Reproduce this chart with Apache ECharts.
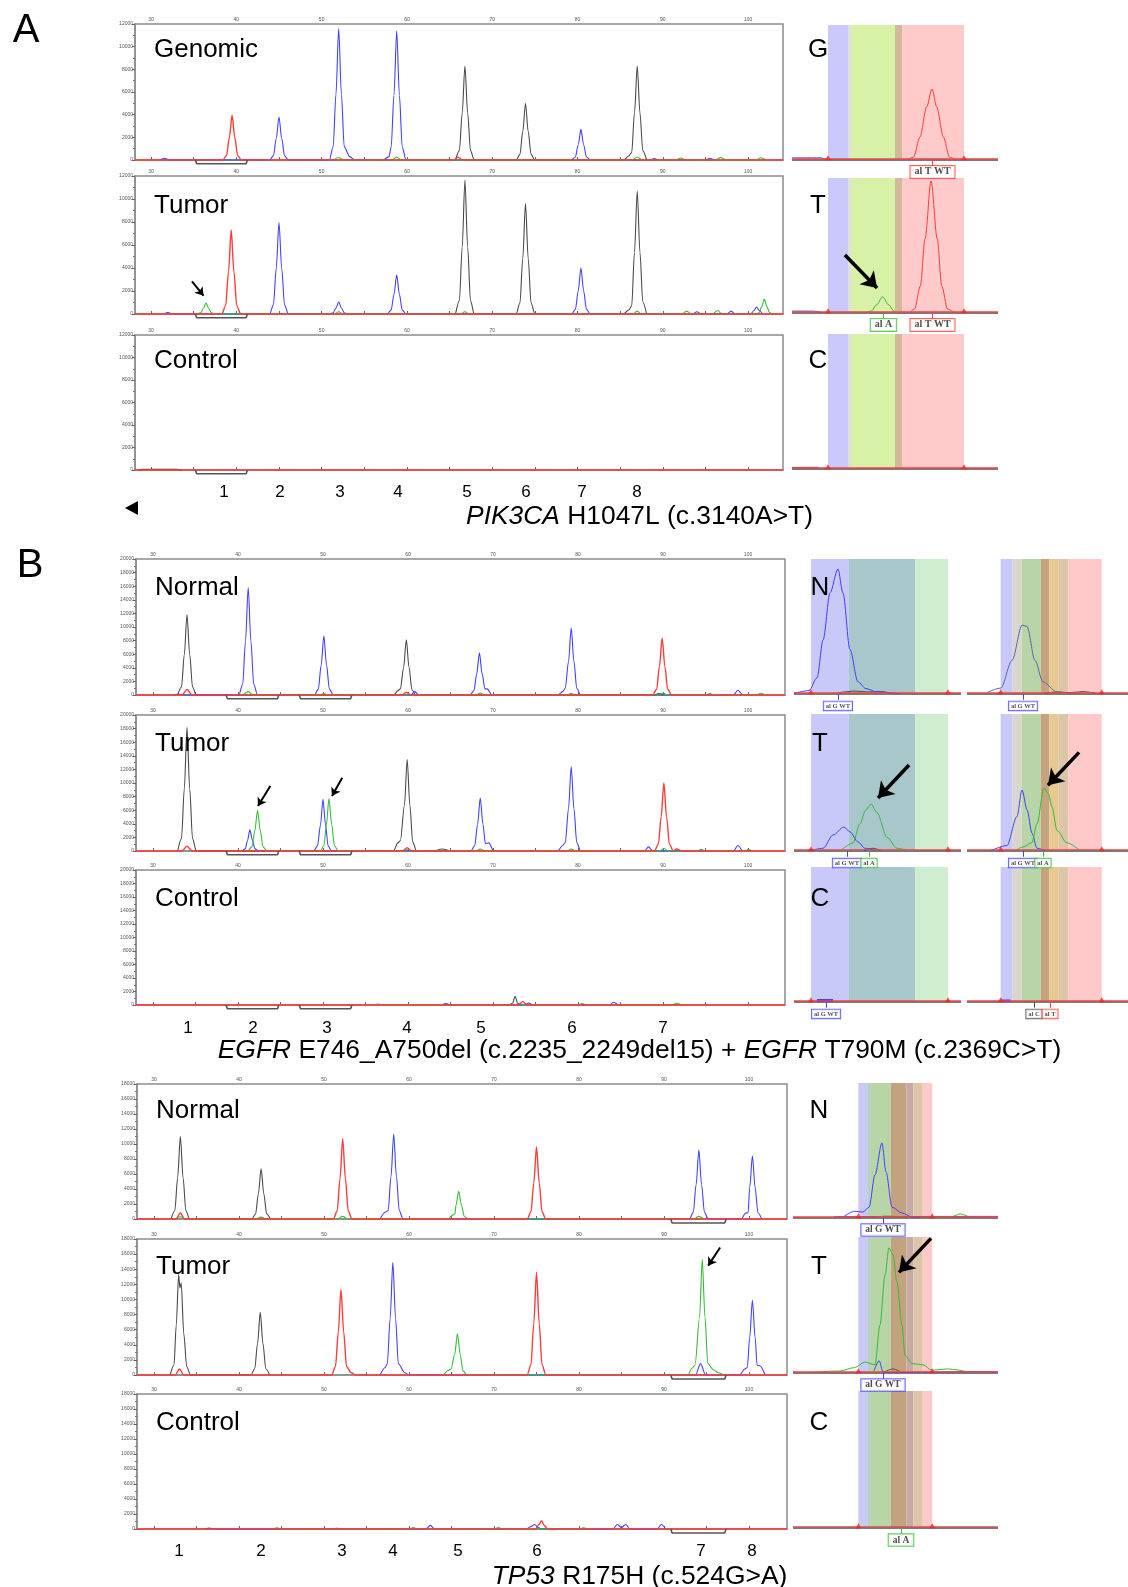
<!DOCTYPE html>
<html>
<head>
<meta charset="utf-8">
<script src="https://cdn.jsdelivr.net/npm/echarts@6/dist/echarts.min.js"></script>
<style>
html, body { margin: 0; padding: 0; background: #fff; }
#main { width: 1128px; height: 1587px; }
</style>
</head>
<body>
<div id="main"></div>
<script>
// ---------- axis ticks of the electropherograms ----------
var xTickValues = [30, 35, 40, 45, 50, 55, 60, 65, 70, 75, 80, 85, 90, 95, 100];
var xLabelValues = [30, 40, 50, 60, 70, 80, 90, 100];

// ---------- A : PIK3CA ----------
var genBlack = [[65.7,0],[66.15,830],[66.48,4150],[66.8,8300],[67.12,4150],[67.45,830],[67.9,0],
  [72.8,0],[73.25,500],[73.58,2500],[73.9,5000],[74.22,2500],[74.55,500],[75,0],
  [85.4,0],[86,350],[86.35,650],[86.68,4150],[87,8300],[87.32,4150],[87.65,830],[88.1,0]];
var genBlue = [[31,0],[31.6,150],[32.2,0],
  [43.9,0],[44.35,380],[44.68,1900],[45,3800],[45.32,1900],[45.65,380],[46.1,0],
  [50.9,0],[51.35,1160],[51.68,5800],[52,11600],[52.32,5800],[52.65,1160],[53.3,300],[53.9,0],
  [57.2,0],[57.9,300],[58.15,1140],[58.48,5700],[58.8,11400],[59.12,5700],[59.45,1140],[59.9,0],
  [79.3,0],[79.75,270],[80.08,1350],[80.4,2700],[80.72,1350],[81.05,270],[81.5,0],
  [88.5,0],[89,120],[89.5,0],[95,0],[95.5,150],[96,0]];
var genRed = [[28.12,0],[38.4,0],[38.85,400],[39.18,1980],[39.5,3950],[39.82,1980],[40.15,400],[40.6,0],
  [65.5,0],[66,250],[66.5,0],[104.09,0]];
var genGreen = [[51.4,0],[52,220],[52.6,0],[58.2,0],[58.8,250],[59.4,0],[86.4,0],[87,260],[87.6,0],
  [91.5,0],[92.1,180],[92.7,0],[96.2,0],[96.8,220],[97.4,0],[100.9,0],[101.5,200],[102.1,0]];

var tumABlack = [[65.7,0],[66.15,1165],[66.48,5825],[66.8,11650],[67.12,5825],[67.45,1165],[67.9,0],
  [72.8,0],[73.25,960],[73.58,4800],[73.9,9600],[74.22,4800],[74.55,960],[75,0],
  [85.4,0],[86,350],[86.35,700],[86.68,5350],[87,10700],[87.32,5350],[87.65,1070],[88.1,0]];
var tumABlue = [[31.5,0],[32,120],[32.5,0],
  [43.9,0],[44.35,795],[44.68,3975],[45,7950],[45.32,3975],[45.65,795],[46.1,0],
  [50.9,0],[51.35,105],[51.68,525],[52,1050],[52.32,525],[52.65,105],[53.1,0],
  [57.7,0],[58.15,340],[58.48,1700],[58.8,3400],[59.12,1700],[59.45,340],[59.9,0],
  [79.3,0],[79.75,400],[80.08,2000],[80.4,4000],[80.72,2000],[81.05,400],[81.5,0],
  [93.5,0],[94,200],[94.5,0],[97.5,0],[98,250],[98.5,0],
  [100.3,0],[100.7,300],[101,600],[101.3,300],[101.7,0]];
var tumARed = [[28.12,0],[38.3,0],[38.75,730],[39.08,3650],[39.4,7300],[39.72,3650],[40.05,730],[40.5,0],[104.09,0]];
var tumAGreen = [[35.4,0],[35.8,95],[36.13,475],[36.45,950],[36.77,475],[37.1,95],[37.5,0],
  [51.5,0],[52,200],[52.5,0],[66.3,0],[66.8,200],[67.3,0],[86.5,0],[87,250],[87.5,0],
  [92.2,0],[92.8,250],[93.4,0],[95.8,0],[96.4,300],[97,0],
  [101,0],[101.3,130],[101.6,650],[101.9,1300],[102.2,650],[102.5,130],[102.9,0]];
var tumAArrows = [[34.8, 2830, 36.15, 1590]];

var ctlARed = [[28.12,0],[104.09,0]];
var ctlABlack = [[28.5,0],[29,60],[33,60],[33.5,0]];

var bracketsA = [[[35.2,0],[35.35,-330],[41.15,-330],[41.3,0]]];

// ---------- B : EGFR ----------
var norBBlack = [[32.9,0],[33.35,1180],[33.68,5900],[34,11800],[34.32,5900],[34.65,1180],[35.1,0],
  [58.3,0],[58.8,600],[59.1,900],[59.48,4050],[59.8,8100],[60.12,4050],[60.45,810],[60.9,0],
  [89,0],[89.5,200],[90,0]];
var norBBlue = [[32.5,0],[33,150],[33.5,0],
  [40.1,0],[40.55,1580],[40.88,7900],[41.2,15800],[41.52,7900],[41.85,1580],[42.3,0],
  [49,0],[49.45,870],[49.78,4350],[50.1,8700],[50.42,4350],[50.75,870],[51.2,0],
  [60.3,0],[60.8,500],[61.3,0],
  [67.3,0],[67.75,620],[68.08,3100],[68.4,6200],[68.72,3100],[69.05,900],[69.3,900],[69.9,0],
  [77.6,0],[78.2,500],[78.5,985],[78.88,4925],[79.2,9850],[79.52,4925],[79.85,985],[80.3,0],
  [98.3,0],[98.8,700],[99.3,0]];
var norBRed = [[28,0],[33.4,0],[34,800],[34.6,0],[59.3,0],[59.8,400],[60.3,0],
  [88.8,0],[89.25,840],[89.58,4200],[89.9,8400],[90.22,4200],[90.55,840],[91,0],[104.35,0]];
var norBGreen = [[40.6,0],[41.2,500],[41.8,0],[49.6,0],[50.1,200],[50.6,0],[68,0],[68.5,300],[69,0],
  [78.7,0],[79.2,250],[79.7,0],[89.5,0],[90,300],[90.5,0],[95,0],[95.5,200],[96,0],[101,0],[101.5,250],[102,0]];

var tumBBlack = [[32.9,0],[33.35,1820],[33.68,9100],[34,18200],[34.32,9100],[34.65,1820],[35.1,0],
  [58.3,0],[58.8,1200],[59.1,1500],[59.58,6725],[59.9,13450],[60.22,6725],[60.55,1345],[61,0],
  [63,0],[64,300],[65,0]];
var tumBBlue = [[40.5,0],[40.85,310],[41.12,1550],[41.4,3100],[41.7,1550],[42,310],[42.4,0],
  [48.9,0],[49.35,760],[49.7,3800],[50,7600],[50.3,3800],[50.6,760],[51,0],
  [67.4,0],[67.85,780],[68.18,3900],[68.5,7800],[68.82,3900],[69.1,1100],[69.5,1200],[70.1,0],
  [77.6,0],[78.2,800],[78.5,1240],[78.88,6200],[79.2,12400],[79.52,6200],[79.85,1240],[80.3,0],
  [87.8,0],[88.3,600],[88.8,0],[98.3,0],[98.8,800],[99.3,0]];
var tumBRed = [[28,0],[33.4,0],[34,700],[34.6,0],[59.4,0],[59.9,500],[60.4,0],
  [89,0],[89.45,1000],[89.78,5000],[90.1,10000],[90.42,5000],[90.75,1000],[91.2,0],[91.6,300],[92.2,0],[104.35,0]];
var tumBGreen = [[41.2,0],[41.65,600],[41.98,3000],[42.3,6000],[42.62,3000],[42.95,600],[43.4,0],
  [49.7,0],[50.1,770],[50.4,3850],[50.7,7700],[51.02,3850],[51.35,770],[51.8,0],
  [59.4,0],[59.9,300],[60.4,0],[68,0],[68.5,300],[69,0],[78.7,0],[79.2,300],[79.7,0],
  [89.6,0],[90.1,400],[90.6,0],[94,0],[94.5,250],[95,0],[99.5,0],[100,200],[100.5,0]];
var tumBArrows = [[43.8, 9560, 42.35, 6620], [52.26, 10780, 51.06, 8090]];

var ctlBBlack = [[71.9,0],[72.3,260],[72.6,1300],[72.9,260],[73.3,0]];
var ctlBRed = [[28,0],[73,0],[73.5,500],[74,0],[104.35,0]];
var ctlBBlue = [[64,0],[64.5,200],[65,0],[73.7,0],[74.2,300],[74.7,0],[83.7,0],[84.2,400],[84.7,0]];
var ctlBGreen = [[56,0],[56.5,150],[57,0],[80,0],[80.5,200],[81,0],[91,0],[91.6,250],[92.2,0]];

var bracketsB = [[[38.6,0],[38.75,-560],[44.65,-560],[44.8,0]], [[47.2,0],[47.35,-560],[53.25,-560],[53.4,0]]];

// ---------- B : TP53 ----------
var norPBlack = [[32,0],[32.45,1100],[32.78,5500],[33.1,11000],[33.42,5500],[33.75,1100],[34.2,0],
  [41.5,0],[41.95,670],[42.28,3350],[42.6,6700],[42.92,3350],[43.25,670],[43.7,0]];
var norPRed = [[28,0],[32.6,0],[33.1,800],[33.6,0],
  [51.1,0],[51.55,1070],[51.88,5350],[52.2,10700],[52.52,5350],[52.85,1070],[53.3,0],
  [73.9,0],[74.35,960],[74.68,4800],[75,9600],[75.32,4800],[75.65,960],[76.1,0],[104.47,0]];
var norPBlue = [[56.6,0],[57.2,900],[57.55,1130],[57.88,5650],[58.2,11300],[58.52,5650],[58.85,1130],[59.3,0],
  [93,0],[93.45,920],[93.78,4600],[94.1,9200],[94.42,4600],[94.75,920],[95.2,0],
  [99.1,0],[99.6,800],[99.9,840],[100.08,4200],[100.4,8400],[100.72,4200],[101.05,840],[101.5,0]];
var norPGreen = [[32.5,0],[33.1,300],[33.7,0],[42,0],[42.6,250],[43.2,0],[51.6,0],[52.2,350],[52.8,0],
  [64.6,0],[65.1,500],[65.4,700],[65.53,1850],[65.85,3700],[66.17,1850],[66.5,370],[66.95,0],
  [93.5,0],[94.1,350],[94.7,0]];

var tumPBlack = [[31.9,0],[32.35,1330],[32.62,6650],[32.9,13300],[33.05,11500],[33.2,12200],[33.5,5500],[33.85,1100],[34.3,0],
  [41.4,0],[41.85,830],[42.18,4150],[42.5,8300],[42.82,4150],[43.15,830],[43.6,0]];
var tumPRed = [[28,0],[32.5,0],[33,800],[33.5,0],
  [50.9,0],[51.35,1130],[51.68,5650],[52,11300],[52.32,5650],[52.65,1130],[53.2,300],[53.7,0],
  [73.9,0],[74.35,1360],[74.68,6800],[75,13600],[75.32,6800],[75.65,1360],[76.1,0],[104.47,0]];
var tumPBlue = [[56.6,0],[57.2,1000],[57.45,1490],[57.78,7450],[58.1,14900],[58.42,7450],[58.75,1490],[59.5,300],[60,0],
  [93.7,0],[94.3,1500],[94.9,0],
  [98.9,0],[99.5,800],[99.8,990],[100.08,4950],[100.4,9900],[100.72,4950],[100.95,1300],[101.3,1200],[101.9,0]];
var tumPGreen = [[64.1,0],[64.6,600],[64.95,800],[65.38,2750],[65.7,5500],[66.02,2750],[66.35,550],[66.8,0],
  [92.8,0],[93.3,900],[93.65,1300],[94.18,7650],[94.5,15300],[94.82,7650],[95.15,1530],[95.8,700],[96.4,300],[97,0]];
var tumPArrows = [[96.6, 16870, 95.2, 14470]];

var ctlPRed = [[28,0],[74.9,0],[75.3,600],[75.6,1100],[75.9,500],[76.3,0],[104.47,0]];
var ctlPBlue = [[36,0],[36.5,120],[37,0],[62,0],[62.5,500],[63,0],[73.8,0],[74.3,300],[74.8,600],[75.2,200],[75.6,0],
  [84,0],[84.5,600],[85,200],[85.5,600],[86,0],[89.2,0],[89.7,600],[90.2,0]];
var ctlPGreen = [[44,0],[44.5,150],[45,0],[60,0],[60.5,200],[61,0],[70,0],[70.5,200],[71,0],[80,0],[80.5,150],[81,0]];
var ctlPBlack = [[51,0],[51.5,100],[52,0]];

var bracketsP = [[[90.8,0],[90.95,-530],[97.15,-530],[97.3,0]]];

// ---------- zoomed allele windows (x 0-100, y % of window height) ----------
var bandsA = [[17.5,27.2],[27.2,28.6],[28.6,50],[50,53.4],[53.4,83.5]];
var bandColorsA = ['#c9c9fb','#dedede','#d7f1a6','#d3b99b','#ffcaca'];
var triA = [17.5, 83.5];
var gRedA = [[55.7,0],[59,2],[62.1,17],[65.4,39.5],[68,52.6],[70.2,39.5],[73.5,17],[76.5,2],[79.5,0]];
var gBlueA = [[0,1.6],[14,1.6],[16,0.6]];
var tRedA = [[57,0],[59.5,3],[62.3,20],[64.6,55],[67.5,97.8],[70.5,55],[72.7,20],[75.5,3],[78.5,0]];
var tGreenA = [[36,0],[38.5,1.5],[41,6],[44,11.9],[47,6],[49.5,1.5],[51,0]];
var tBlueA = [[0,1.4],[10,1.4],[14,0.6]];
var tArrowA = [[25.7, 43, 41.3, 18.5]];
var cBlackA = [[0,1.2],[13,1.2]];
var labelsGA = [[68.2, 'al T WT']];
var labelsTA = [[44.4, 'al A'], [68.2, 'al T WT']];

var bandsBL = [[10.2,32.9],[32.9,72.5],[72.5,92.2]];
var bandColorsBL = ['#c9c9f9','#a7c7cb','#cfedcf'];
var triBL = [10.2, 92.2];
var nBlueBL = [[0,0.5],[9,2.5],[13.8,12],[17.4,40],[21.6,75],[26.3,92.6],[29.3,75],[33.5,33],[38.3,9],[43,4],[49.7,1.5],[63.5,0.3]];
var nBlackBL = [[26,0.5],[30,1.5],[36,2.2],[44,1.5],[52,1.8],[58,0.6]];
var tBlueBL = [[10,0.3],[17.4,2],[23.4,11.7],[29.9,17.5],[33.5,14],[38.3,6.6],[42.5,2],[48.4,0.3]];
var tGreenBL = [[28,0.3],[35.3,5.8],[39.5,20],[43,30],[46.1,34.3],[49.7,28],[55.7,10],[61.7,2],[68,0.3]];
var tBlackBL = [[42,0.3],[47.3,2],[52,0.3]];
var tArrowBL = [[68.9, 62.8, 50.3, 38.7]];
var cBlueBL = [[13.8,1.2],[23.4,1.2]];
var labelsNBL = [[26.3, 'al G WT']];
var labelsTBL = [[31.7, 'al G WT'], [44.9, 'al A']];
var labelsCBL = [[19.2, 'al G WT']];

var bandsBR = [[20.9,28.4],[28.4,34],[34,45.8],[45.8,51.1],[51.1,56.7],[56.7,62.9],[62.9,83.7]];
var bandColorsBR = ['#c9c9f9','#d9d7cd','#b7d5a7','#c5a37f','#e7c98f','#ddc5a7','#ffc9c9'];
var triBR = [20.9, 83.7];
var nSlateBR = [[12.4,1],[21,4.4],[28,25],[34.2,51],[37.3,50],[42.2,25],[47.2,9],[55.9,1.5],[64,0.5]];
var nBlackBR = [[48,0.5],[56,1.5],[64,1],[72,1.8],[80,0.5]];
var tBlueBR = [[15,0.3],[24.8,4],[31,25],[34.2,44.5],[37.3,30],[40.4,13],[43.5,2],[48.4,0.3]];
var tGreenBR = [[30,0.3],[35,3],[40.2,6],[43.5,20],[47.8,46],[50.5,42],[52.8,32],[55.9,15],[62,6],[70,0.5]];
var tArrowBR = [[69.6, 72, 50.3, 48]];
var cBlueBR = [[21,1.2],[27,1.2]];
var labelsNBR = [[34.8, 'al G WT']];
var labelsTBR = [[34.8, 'al G WT'], [47.2, 'al A']];
var labelsCBR = [[41.6, 'al C'], [51.6, 'al T']];

var bandsP = [[31.9,36.2],[36.2,37.6],[37.6,47.7],[47.7,55.4],[55.4,58.7],[58.7,63.3],[63.3,67.9]];
var bandColorsP = ['#c9c9f9','#b5cdcd','#b7d5a7','#c3a37f','#c7a9a5','#ddc5a7','#ffc9c9'];
var triP = [31.9, 67.9];
var nBlueP = [[24.4,0.7],[30.2,5],[34.1,4.4],[37.1,8],[40,32],[43.4,55.6],[45.4,34],[48.3,8],[53.2,3.7],[58,0.7],[62,0.3]];
var nGreenP = [[40,0.5],[46,1.5],[52,1],[60,0.5],[76.6,0.5],[81.5,3],[86.3,0.5]];
var nBlueNoiseP = [[20,1],[30,1],[90,1.2],[100,1.2]];
var tGreenP = [[10,0.5],[22.9,1.5],[30,4],[35.1,8],[40,6],[42.4,35],[44.9,72],[46.8,92],[48.8,87],[50.7,67],[53.2,35],[54.6,13],[58,7],[63.4,6],[67.8,2],[75.1,3],[84.9,1]];
var tBlueP = [[39.5,1.5],[42,9],[43.9,1],[46,0.3],[90,1],[100,1]];
var tBlackP = [[44,0.3],[48.8,3],[53,0.3]];
var tArrowP = [[67.3, 99, 51.7, 74]];
var labelsNP = [[43.9, 'al G WT']];
var labelsTP = [[43.9, 'al G WT']];
var labelsCP = [[52.7, 'al A']];

// ---------- build ----------
var DYE = { K: '#4a4a4a', B: '#4040ff', R: '#ff3b3b', G: '#35bb35', S: '#5866b0' };
var BASE_DYE = { A: 'G', C: 'K', G: 'B', T: 'R' };
var FONT = '"Liberation Sans", Arial, sans-serif';

var grids = [], xAxes = [], yAxes = [], series = [], graphics = [];

function addMain(p) {
	var gi = grids.length;
	grids.push({ left: p.left, top: p.top, width: p.width, height: p.height, show: true,
		borderColor: '#8c8c8c', borderWidth: 1.5, backgroundColor: '#fff' });
	xAxes.push({
		gridIndex: gi, type: 'value', position: 'top', min: p.xmin, max: p.xmax,
		axisLine: { show: true, lineStyle: { color: '#8c8c8c', width: 1.5 } },
		axisTick: { show: true, customValues: xTickValues, length: 3, lineStyle: { color: '#666' } },
		axisLabel: { show: true, customValues: xLabelValues, fontSize: 5, color: '#555', margin: 2, fontFamily: FONT },
		splitLine: { show: false }
	});
	yAxes.push({
		gridIndex: gi, type: 'value', min: 0, max: p.ymax, interval: 2000,
		axisLine: { show: true, lineStyle: { color: '#8c8c8c', width: 1.5 } },
		axisTick: { show: true, length: 3, lineStyle: { color: '#666' } },
		minorTick: { show: true, splitNumber: 2, length: 2, lineStyle: { color: '#777' } },
		axisLabel: { fontSize: 5, color: '#555', margin: 2, fontFamily: FONT, formatter: function (v) { return String(v); } },
		splitLine: { show: false }
	});
	var order = ['K', 'B', 'G', 'R'];
	order.forEach(function (k) {
		if (!p.traces[k]) return;
		series.push({
			type: 'line', xAxisIndex: gi, yAxisIndex: gi, data: p.traces[k],
			symbol: 'none', smooth: 0.3, smoothMonotone: 'x', clip: false,
			lineStyle: { color: DYE[k], width: k === 'R' ? 1.4 : 1.1 }, z: k === 'R' ? 4 : 3, silent: true
		});
	});
	(p.brackets || []).forEach(function (b) {
		series.push({ type: 'line', xAxisIndex: gi, yAxisIndex: gi, data: b, symbol: 'none', clip: false,
			lineStyle: { color: '#555', width: 1.6 }, z: 5, silent: true });
	});
	if (p.arrows) {
		series.push({
			type: 'line', xAxisIndex: gi, yAxisIndex: gi, data: [[p.xmin, -99999]], symbol: 'none', silent: true,
			markLine: {
				silent: true, symbol: ['none', 'arrow'], symbolSize: 8, animation: false,
				label: { show: false }, lineStyle: { color: '#000', width: 2, type: 'solid' },
				data: p.arrows.map(function (a) { return [{ coord: [a[0], a[1]] }, { coord: [a[2], a[3]] }]; })
			}
		});
	}
	graphics.push({ type: 'text', x: p.left + 19, y: p.nameY, z: 100, style: {
		text: p.name, fontSize: 26, fontFamily: FONT, fill: '#000', align: 'left', verticalAlign: 'middle' } });
}

function addInset(p) {
	var gi = grids.length;
	var h = p.base - p.top;
	grids.push({ left: p.left, top: p.top, width: p.width, height: h * 1.15, show: false });
	xAxes.push({ gridIndex: gi, type: 'value', min: 0, max: 100, show: false });
	yAxes.push({ gridIndex: gi, type: 'value', min: -15, max: 100, show: false });
	var on = { xAxisIndex: gi, yAxisIndex: gi };
	series.push(Object.assign({ type: 'line', data: [[0, -20]], symbol: 'none', silent: true, z: 1,
		markArea: { silent: true, animation: false,
			data: p.bands.map(function (b, i) {
				return [{ xAxis: b[0], yAxis: 0, itemStyle: { color: p.bandColors[i] } }, { xAxis: b[1], yAxis: 100 }];
			}) } }, on));
	series.push(Object.assign({ type: 'line', data: [[0, 0], [100, 0]], symbol: 'none', silent: true, z: 2,
		lineStyle: { color: '#7a7a7a', width: 2.2 } }, on));
	p.traces.forEach(function (t) {
		series.push(Object.assign({ type: 'line', data: t[1], symbol: 'none', smooth: 0.3, smoothMonotone: 'x',
			silent: true, z: 3, lineStyle: { color: DYE[t[0]], width: t[2] || 1 } }, on));
	});
	series.push(Object.assign({ type: 'line', data: [[0, 0.9], [100, 0.9]], symbol: 'none', silent: true, z: 4,
		lineStyle: { color: '#ff3b3b', width: 1.2 } }, on));
	series.push(Object.assign({ type: 'scatter', data: p.tri.map(function (x) { return [x, 1.6]; }),
		symbol: 'triangle', symbolSize: [6, 5], itemStyle: { color: '#ff2020' }, silent: true, z: 5 }, on));
	if (p.labels && p.labels.length) {
		series.push(Object.assign({ type: 'scatter', symbolSize: 1, itemStyle: { color: 'rgba(0,0,0,0)' }, silent: true, z: 6,
			data: p.labels.map(function (l) {
				var c = DYE[BASE_DYE[l[1].split(' ')[1]]];
				return { name: l[1], value: [l[0], -8.8], label: { borderColor: c } };
			}),
			label: { show: true, position: 'inside', formatter: '{b}', fontSize: p.labelFont, fontWeight: 'bold',
				fontFamily: '"Liberation Serif", "DejaVu Serif", serif', color: '#222', backgroundColor: '#fff',
				borderWidth: 1, padding: p.labelPad, lineHeight: p.labelFont + 1 },
			markLine: { silent: true, symbol: 'none', animation: false, label: { show: false },
				data: p.labels.map(function (l) {
					var c = DYE[BASE_DYE[l[1].split(' ')[1]]];
					return [{ coord: [l[0], 0], lineStyle: { color: c, width: 1, type: 'solid' } }, { coord: [l[0], -4.2] }];
				}) }
		}, on));
	}
	if (p.arrows) {
		series.push(Object.assign({ type: 'line', data: [[0, -20]], symbol: 'none', silent: true, z: 7,
			markLine: { silent: true, symbol: ['none', 'arrow'], symbolSize: 15, animation: false,
				label: { show: false }, lineStyle: { color: '#000', width: 3.5, type: 'solid' },
				data: p.arrows.map(function (a) { return [{ coord: [a[0], a[1]] }, { coord: [a[2], a[3]] }]; }) } }, on));
	}
	if (p.letter) {
		graphics.push({ type: 'text', x: p.letterX, y: p.letterY, z: 100, style: {
			text: p.letter, fontSize: 26, fontFamily: FONT, fill: '#000', align: 'center', verticalAlign: 'middle' } });
	}
}

// main electropherograms
var A = { left: 135, width: 648, xmin: 28.12, xmax: 104.09, ymax: 12000 };
var B = { left: 136, width: 649, xmin: 28, xmax: 104.35, ymax: 20000 };
var P = { left: 137, width: 650, xmin: 28, xmax: 104.47, ymax: 18000 };
function pan(base, o) { return Object.assign({}, base, o); }

addMain(pan(A, { name: 'Genomic', nameY: 50, top: 24, height: 136, traces: { K: genBlack, B: genBlue, G: genGreen, R: genRed }, brackets: bracketsA }));
addMain(pan(A, { name: 'Tumor', nameY: 206, top: 176, height: 138, traces: { K: tumABlack, B: tumABlue, G: tumAGreen, R: tumARed }, brackets: bracketsA, arrows: tumAArrows }));
addMain(pan(A, { name: 'Control', nameY: 361, top: 335, height: 135, traces: { K: ctlABlack, R: ctlARed }, brackets: bracketsA }));

addMain(pan(B, { name: 'Normal', nameY: 588, top: 559, height: 136, traces: { K: norBBlack, B: norBBlue, G: norBGreen, R: norBRed }, brackets: bracketsB }));
addMain(pan(B, { name: 'Tumor', nameY: 744, top: 715, height: 136, traces: { K: tumBBlack, B: tumBBlue, G: tumBGreen, R: tumBRed }, brackets: bracketsB, arrows: tumBArrows }));
addMain(pan(B, { name: 'Control', nameY: 899, top: 870, height: 135, traces: { K: ctlBBlack, B: ctlBBlue, G: ctlBGreen, R: ctlBRed }, brackets: bracketsB }));

addMain(pan(P, { name: 'Normal', nameY: 1111, top: 1084, height: 135, traces: { K: norPBlack, B: norPBlue, G: norPGreen, R: norPRed }, brackets: bracketsP }));
addMain(pan(P, { name: 'Tumor', nameY: 1267, top: 1239, height: 136, traces: { K: tumPBlack, B: tumPBlue, G: tumPGreen, R: tumPRed }, brackets: bracketsP, arrows: tumPArrows }));
addMain(pan(P, { name: 'Control', nameY: 1423, top: 1394, height: 135, traces: { K: ctlPBlack, B: ctlPBlue, G: ctlPGreen, R: ctlPRed }, brackets: bracketsP }));

// allele windows
var IA = { left: 792, width: 206, bands: bandsA, bandColors: bandColorsA, tri: triA, labelFont: 10, labelPad: [1, 4, 0, 4], letterX: 818 };
addInset(Object.assign({}, IA, { letter: 'G', letterY: 50, top: 25, base: 160, traces: [['B', gBlueA], ['R', gRedA]], labels: labelsGA }));
addInset(Object.assign({}, IA, { letter: 'T', letterY: 206, top: 178, base: 313, traces: [['B', tBlueA], ['G', tGreenA], ['R', tRedA]], labels: labelsTA, arrows: tArrowA }));
addInset(Object.assign({}, IA, { letter: 'C', letterY: 361, top: 334, base: 469, traces: [['K', cBlackA]], labels: [] }));

var IBL = { left: 794, width: 167, bands: bandsBL, bandColors: bandColorsBL, tri: triBL, labelFont: 6.5, labelPad: [1, 2, 0, 2], letterX: 820 };
addInset(Object.assign({}, IBL, { letter: 'N', letterY: 588, top: 559, base: 694, traces: [['K', nBlackBL], ['B', nBlueBL]], labels: labelsNBL }));
addInset(Object.assign({}, IBL, { letter: 'T', letterY: 744, top: 714, base: 851, traces: [['K', tBlackBL], ['B', tBlueBL], ['G', tGreenBL]], labels: labelsTBL, arrows: tArrowBL }));
addInset(Object.assign({}, IBL, { letter: 'C', letterY: 899, top: 867, base: 1002, traces: [['B', cBlueBL, 3]], labels: labelsCBL }));

var IBR = { left: 967, width: 161, bands: bandsBR, bandColors: bandColorsBR, tri: triBR, labelFont: 6.5, labelPad: [1, 2, 0, 2] };
addInset(Object.assign({}, IBR, { top: 559, base: 694, traces: [['K', nBlackBR], ['S', nSlateBR]], labels: labelsNBR }));
addInset(Object.assign({}, IBR, { top: 714, base: 851, traces: [['B', tBlueBR], ['G', tGreenBR]], labels: labelsTBR, arrows: tArrowBR }));
addInset(Object.assign({}, IBR, { top: 867, base: 1002, traces: [['B', cBlueBR, 2]], labels: labelsCBR }));

var IP = { left: 793, width: 205, bands: bandsP, bandColors: bandColorsP, tri: triP, labelFont: 9.5, labelPad: [1, 4, 0, 4], letterX: 819 };
addInset(Object.assign({}, IP, { letter: 'N', letterY: 1111, top: 1083, base: 1218, traces: [['B', nBlueNoiseP], ['G', nGreenP], ['B', nBlueP]], labels: labelsNP }));
addInset(Object.assign({}, IP, { letter: 'T', letterY: 1267, top: 1237, base: 1373, traces: [['K', tBlackP], ['B', tBlueP], ['G', tGreenP]], labels: labelsTP, arrows: tArrowP }));
addInset(Object.assign({}, IP, { letter: 'C', letterY: 1423, top: 1391, base: 1528, traces: [], labels: labelsCP }));

// peak numbers and captions
var numsA = [['1', 224], ['2', 280], ['3', 340], ['4', 398], ['5', 467], ['6', 526], ['7', 582], ['8', 637]];
var numsB = [['1', 188], ['2', 253], ['3', 327], ['4', 407], ['5', 481], ['6', 572], ['7', 663]];
var numsP = [['1', 179], ['2', 261], ['3', 342], ['4', 393], ['5', 458], ['6', 537], ['7', 701], ['8', 752]];
function addNums(list, y) {
	list.forEach(function (n) {
		graphics.push({ type: 'text', x: n[1], y: y, z: 100, style: { text: n[0], fontSize: 17, fontFamily: FONT, fill: '#000', align: 'center', verticalAlign: 'middle' } });
	});
}
addNums(numsA, 492);
addNums(numsB, 1028);
addNums(numsP, 1551);

function caption(text, y) {
	graphics.push({ type: 'text', x: 639.5, y: y, z: 100, style: {
		text: text, fontSize: 26.4, fontFamily: FONT, fill: '#000', align: 'center', verticalAlign: 'middle',
		rich: { i: { fontStyle: 'italic', fontSize: 26.4, fontFamily: FONT, fill: '#000' } } } });
}
caption('{i|PIK3CA} H1047L (c.3140A>T)', 517);
caption('{i|EGFR} E746_A750del (c.2235_2249del15) + {i|EGFR} T790M (c.2369C>T)', 1051);
caption('{i|TP53} R175H (c.524G>A)', 1577);

graphics.push({ type: 'text', x: 26, y: 31, z: 100, style: { text: 'A', fontSize: 40, fontFamily: FONT, fill: '#000', align: 'center', verticalAlign: 'middle' } });
graphics.push({ type: 'text', x: 30, y: 566, z: 100, style: { text: 'B', fontSize: 40, fontFamily: FONT, fill: '#000', align: 'center', verticalAlign: 'middle' } });
graphics.push({ type: 'polygon', z: 100, shape: { points: [[138, 501], [138, 515], [125, 508]] }, style: { fill: '#000' } });

var chart = echarts.init(document.getElementById('main'), null, { renderer: 'canvas' });
chart.setOption({
	animation: false,
	backgroundColor: '#fff',
	grid: grids,
	xAxis: xAxes,
	yAxis: yAxes,
	series: series,
	graphic: graphics
});
</script>
</body>
</html>
